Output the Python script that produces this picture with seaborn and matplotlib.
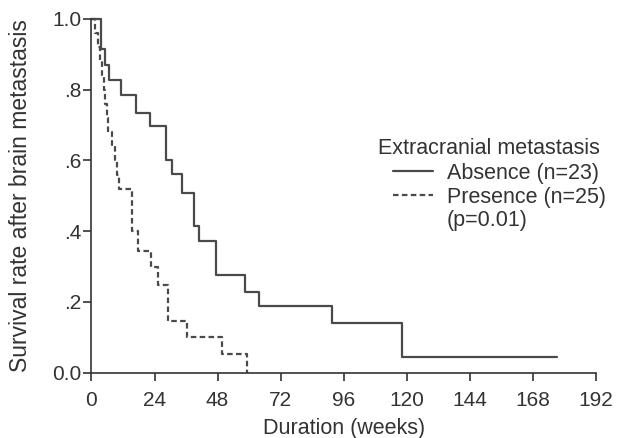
import pandas as pd
import matplotlib
matplotlib.use('Agg')
import matplotlib.pyplot as plt
import seaborn as sns
from matplotlib.lines import Line2D

# Kaplan-Meier steps (weeks, survival after the step)
absence_weeks = [0, 3.7, 5.3, 6.8, 11.1, 16.9, 22.1, 28.2, 30.5, 34.4, 39.0, 41.0,
                 47.4, 58.4, 63.8, 91.4, 118.4, 177.3]
absence_surv = [1.0, 0.915, 0.87, 0.826, 0.785, 0.734, 0.696, 0.602, 0.562, 0.509,
                0.415, 0.371, 0.276, 0.229, 0.189, 0.141, 0.045, 0.045]

presence_weeks = [0, 1.5, 2.5, 3.3, 4.0, 4.6, 5.2, 5.8, 6.4, 7.8, 9.1, 9.8, 10.4,
                  15.6, 17.6, 22.7, 25.4, 29.2, 36.5, 49.8, 59.4]
presence_surv = [1.0, 0.96, 0.92, 0.88, 0.84, 0.80, 0.76, 0.72, 0.68, 0.64, 0.60,
                 0.56, 0.52, 0.40, 0.345, 0.298, 0.247, 0.145, 0.102, 0.052, 0.0]

groups = ['Absence (n=23)', 'Presence (n=25)']
x_ticks = [0, 24, 48, 72, 96, 120, 144, 168, 192]
y_ticks = [0.0, 0.2, 0.4, 0.6, 0.8, 1.0]
y_tick_labels = ['0.0', '.2', '.4', '.6', '.8', '1.0']

sns.set_style('ticks')
plt.rcParams['font.family'] = ['Liberation Sans', 'DejaVu Sans']
plt.rcParams['font.size'] = 15
plt.rcParams['text.color'] = '#333333'
plt.rcParams['axes.labelcolor'] = '#333333'
plt.rcParams['xtick.color'] = '#333333'
plt.rcParams['ytick.color'] = '#333333'

df = pd.concat([
    pd.DataFrame({'weeks': absence_weeks, 'survival': absence_surv, 'group': groups[0]}),
    pd.DataFrame({'weeks': presence_weeks, 'survival': presence_surv, 'group': groups[1]}),
])

fig = plt.figure(figsize=(6.18, 4.38), dpi=100)
ax = fig.add_axes([0.148, 0.149, 0.816, 0.808])

line_color = '#4a4a4a'
sns.lineplot(data=df, x='weeks', y='survival', style='group', style_order=groups,
             dashes={groups[0]: '', groups[1]: (2.5, 1.5)}, color=line_color,
             drawstyle='steps-post', estimator=None, sort=False, legend=False,
             linewidth=1.6, ax=ax)
for ln in ax.get_lines():
    ln.set_clip_on(False)

ax.set_xlim(0, 192)
ax.set_ylim(0, 1.0)
ax.set_xticks(x_ticks)
ax.set_yticks(y_ticks)
ax.set_yticklabels(y_tick_labels)
ax.tick_params(direction='out', length=6, width=1.2, labelsize=15)
ax.tick_params(axis='x', pad=7)
ax.tick_params(axis='y', pad=1.5)
for side in ['top', 'right']:
    ax.spines[side].set_visible(False)
for side in ['left', 'bottom']:
    ax.spines[side].set_color('#333333')
    ax.spines[side].set_linewidth(1.2)

ax.set_xlabel('Duration (weeks)', fontsize=15.5, labelpad=6)
ax.set_ylabel('Survival rate after brain metastasis', fontsize=16.5, labelpad=14)

fig.text(378 / 618, 1 - 148 / 438, 'Extracranial metastasis', fontsize=15.5,
         va='center', ha='left')
handles = [
    Line2D([], [], color=line_color, linewidth=1.6),
    Line2D([], [], color=line_color, linewidth=1.6, dashes=(2.5, 1.5)),
    Line2D([], [], color='none'),
]
ax.legend(handles, groups + ['(p=0.01)'], loc='upper left',
          bbox_to_anchor=(393 / 618, 1 - 163 / 438), bbox_transform=fig.transFigure,
          frameon=False, borderpad=0, borderaxespad=0, labelspacing=0.12,
          handlelength=1.85, handletextpad=0.65, fontsize=15.5)

fig.savefig('out.png', dpi=100)
